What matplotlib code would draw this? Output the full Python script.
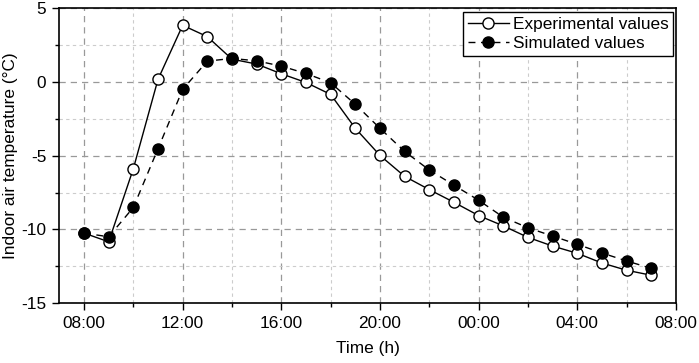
import matplotlib.pyplot as plt
from matplotlib.ticker import MultipleLocator, FuncFormatter

plt.rcParams['font.family'] = ['Liberation Sans', 'DejaVu Sans']
plt.rcParams['axes.unicode_minus'] = False

# hours counted from midnight of the first day
hours = [8, 9, 10, 11, 12, 13, 14, 15, 16, 17, 18, 19, 20, 21, 22, 23,
         24, 25, 26, 27, 28, 29, 30, 31]
experimental = [-10.25, -10.84, -5.88, 0.18, 3.85, 3.08, 1.55, 1.22, 0.56, -0.03,
                -0.84, -3.14, -4.98, -6.4, -7.3, -8.16, -9.06, -9.76, -10.54,
                -11.13, -11.62, -12.28, -12.77, -13.11]
simulated = [-10.25, -10.5, -8.51, -4.53, -0.5, 1.42, 1.6, 1.44, 1.08, 0.58,
             -0.05, -1.51, -3.14, -4.71, -5.97, -7.0, -8.02, -9.17, -9.89,
             -10.45, -11.01, -11.6, -12.14, -12.64]

fs = 12.4

fig = plt.figure(figsize=(6.99, 3.63), dpi=100)
ax = fig.add_axes([0.0849, 0.165, 0.967 - 0.0849, 0.977 - 0.165])

ax.plot(hours, experimental, '-o', color='black', lw=1.0, ms=8,
        mfc='white', mec='black', mew=1.0, label='Experimental values', zorder=3)
ax.plot(hours, simulated, '--o', color='black', lw=1.0, ms=8,
        mfc='black', mec='black', dashes=(5, 4), label='Simulated values', zorder=4)

ax.set_xlim(7, 32)
ax.set_ylim(-15, 5)
ax.xaxis.set_major_locator(MultipleLocator(4))
ax.xaxis.set_minor_locator(MultipleLocator(2))
ax.yaxis.set_major_locator(MultipleLocator(5))
ax.yaxis.set_minor_locator(MultipleLocator(2.5))
ax.xaxis.set_major_formatter(FuncFormatter(lambda v, p: '%02d:00' % (int(round(v)) % 24)))

ax.grid(which='major', color='#999999', ls=(0, (5, 4)), lw=0.9)
ax.grid(which='minor', color='#cccccc', ls=(0, (3, 3)), lw=0.8)
ax.set_axisbelow(True)

ax.tick_params(which='major', direction='out', length=5, width=1.0, labelsize=fs, pad=4.5)
ax.tick_params(which='minor', direction='out', length=3, width=1.0)
for s in ax.spines.values():
    s.set_linewidth(1.2)

ax.set_xlabel('Time (h)', fontsize=fs, labelpad=7)
ax.set_ylabel('Indoor air temperature (°C)', fontsize=fs, labelpad=2.5)

leg = ax.legend(loc='upper right', bbox_to_anchor=(0.996, 0.989), borderaxespad=0,
                fontsize=fs, fancybox=False, framealpha=1, edgecolor='black',
                handlelength=2.4, handletextpad=0.2, borderpad=0.3, labelspacing=0.25)
leg.get_frame().set_linewidth(1.0)

fig.savefig('out.png', dpi=100)
